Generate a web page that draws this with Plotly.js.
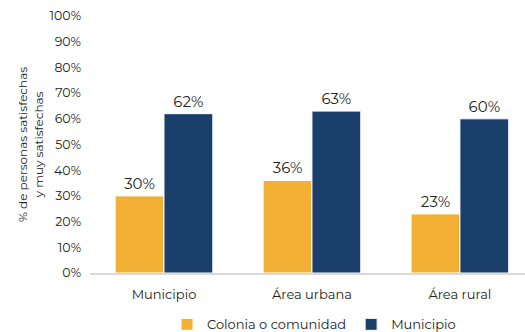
<!DOCTYPE html>
<html><head><meta charset="utf-8">
<script src="https://cdn.plot.ly/plotly-3.0.1.min.js"></script>
<style>body{margin:0;background:#fff}#c{width:525px;height:332px}</style>
</head><body><div id="c"></div>
<script>
const categories = ["Municipio", "Área urbana", "Área rural"];
const colonia = [30, 36, 23];
const municipio = [62, 63, 60];
const seriesNames = ["Colonia o comunidad", "Municipio"];
const tickVals = [0,10,20,30,40,50,60,70,80,90,100];
const tickText = tickVals.map(v => v + "%");
const fontFam = "Montserrat, 'Open Sans', 'DejaVu Sans', sans-serif";
const mk = (y, name, color) => ({
  type: "bar", x: categories, y: y, name: name,
  marker: {color: color, line: {color: "#ffffff", width: 1}},
  text: y.map(v => v + "%"), textposition: "outside",
  textfont: {size: 15, color: "#222", family: fontFam},
  cliponaxis: false, hoverinfo: "none"
});
const data = [mk(colonia, seriesNames[0], "#F2B134"), mk(municipio, seriesNames[1], "#1B3F6B")];
const layout = {
  width: 525, height: 332,
  margin: {l: 90, r: 0, t: 16, b: 59, autoexpand: false},
  barmode: "group", bargap: 0.34, bargroupgap: 0,
  paper_bgcolor: "#fff", plot_bgcolor: "#fff",
  font: {family: fontFam, color: "#222", size: 12},
  xaxis: {range: [-0.5, 2.44], showline: true, linecolor: "#d9d9d9", linewidth: 1.5, ticks: "",
          tickfont: {size: 13}, ticklabelstandoff: 9, automargin: false},
  yaxis: {range: [0, 100], tickvals: tickVals, ticktext: tickText, showgrid: false, zeroline: false,
          showline: false, ticks: "", tickfont: {size: 12.5}, ticklabelstandoff: 8, automargin: false,
          title: {text: "% de personas satisfechas<br>y muy satisfechas", font: {size: 12}, standoff: 3}},
  legend: {orientation: "h", x: 0.515, xanchor: "center", y: -0.2, yanchor: "middle",
           font: {size: 13}, traceorder: "normal", itemwidth: 30},
  showlegend: true
};
Plotly.newPlot("c", data, layout, {staticPlot: true, displayModeBar: false});
</script></body></html>
